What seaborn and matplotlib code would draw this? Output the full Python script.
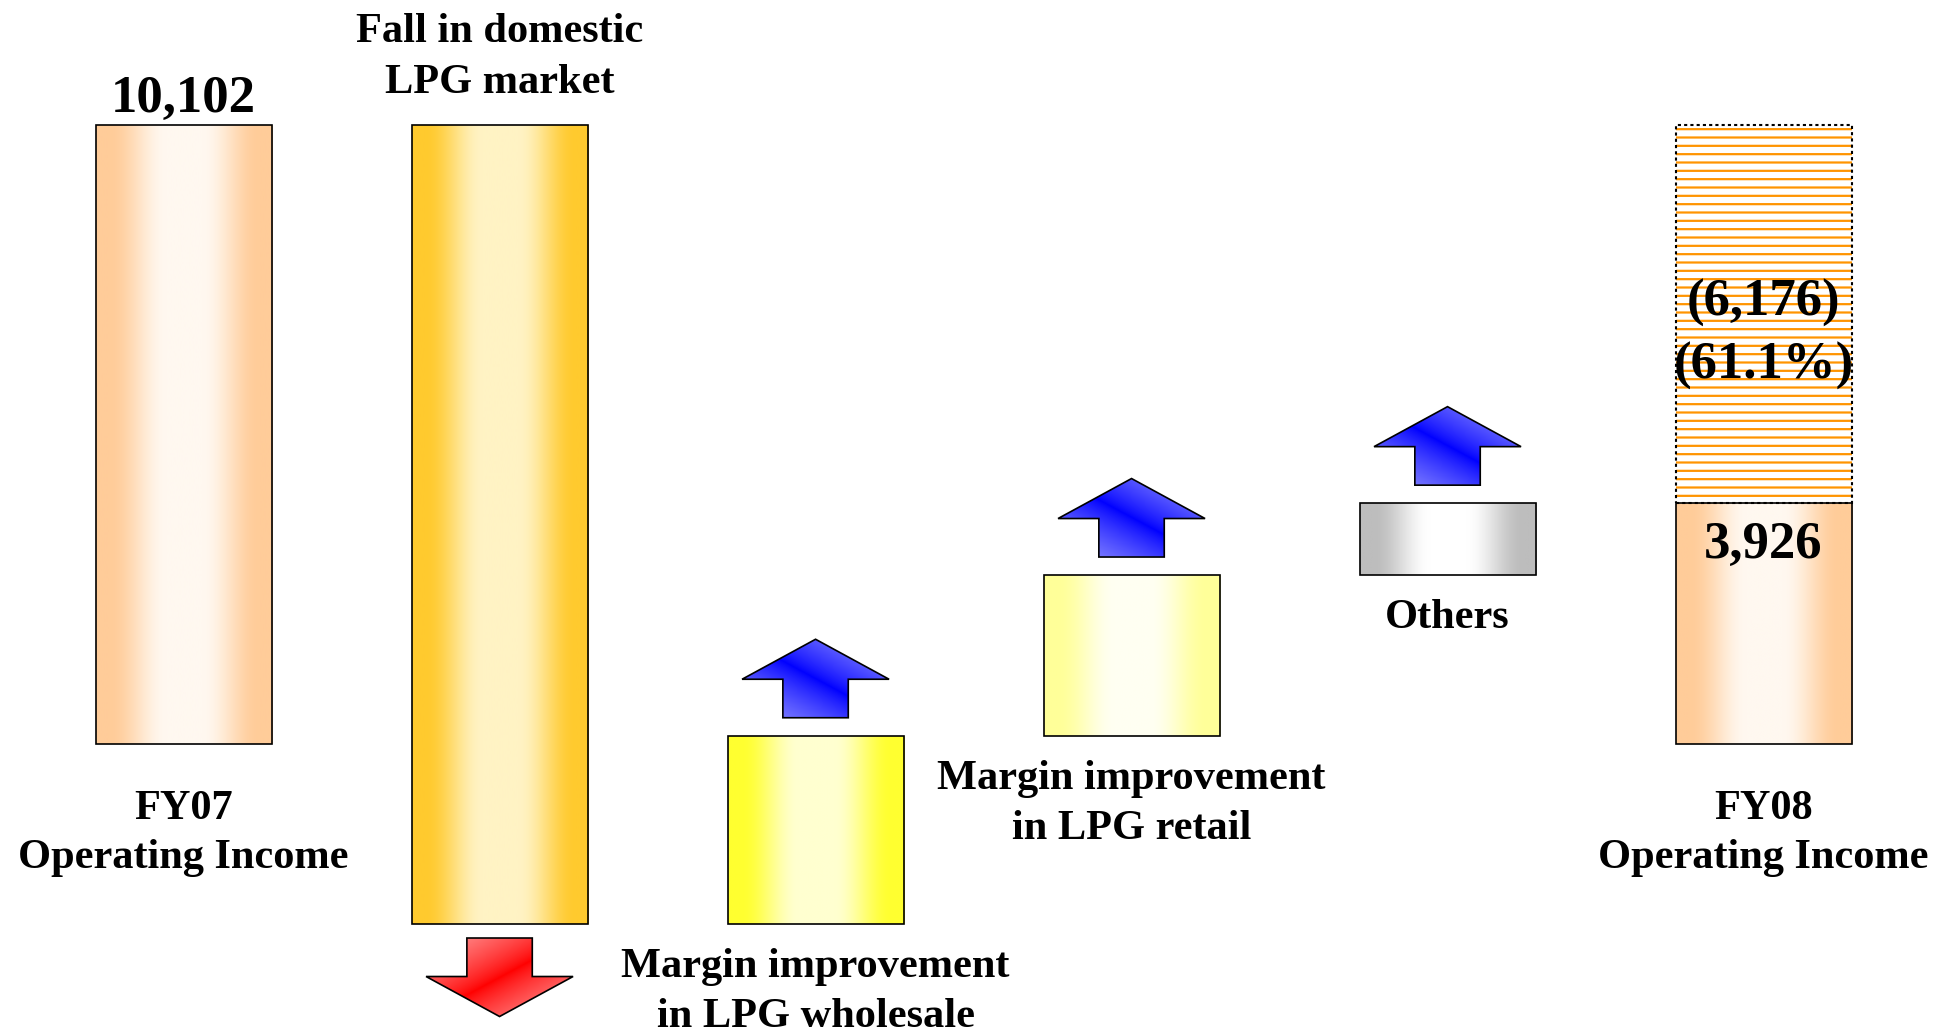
import numpy as np
import pandas as pd
import matplotlib
matplotlib.use("Agg")
import matplotlib.pyplot as plt
import seaborn as sns
from matplotlib.patches import Polygon
from matplotlib.colors import to_rgb

# --- données (cascade du résultat opérationnel) ---
steps = ["FY07", "Fall", "Wholesale", "Retail", "Others", "FY08"]
label_lines = [
    ["FY07", "Operating Income"],
    ["Fall in domestic", "LPG market"],
    ["Margin improvement", "in LPG wholesale"],
    ["Margin improvement", "in LPG retail"],
    ["Others"],
    ["FY08", "Operating Income"],
]
fy07 = 10102
changes = [-13045, 3070, 2625, 1174]
fy08 = 3926
decline = 6176
decline_pct = 61.1

# couleurs (bord, centre) des dégradés
bar_edge = ["#FFCC99", "#FFCA2E", "#FFFF30", "#FFFF99", "#BDBDBD", "#FFCC99"]
bar_center = ["#FFF8F0", "#FFF3C4", "#FFFFD0", "#FFFFF2", "#FFFFFF", "#FFF8F0"]

BAR_W = 0.557
X0, X1 = -0.581, 5.549
Y0, Y1 = -4728, 12144
W_PX, H_PX = 1937, 1033


def hgrad(edge, center, n=256):
    t = np.abs(np.linspace(-1, 1, n))
    w = np.clip((t - 0.2) / 0.65, 0, 1)
    w = w * w * (3 - 2 * w)
    e = np.array(to_rgb(edge))
    c = np.array(to_rgb(center))
    return (c + (e - c) * w[:, None])[None, :, :]


def dgrad(dark, light, flip, n=160):
    xn, yn = np.meshgrid(np.linspace(0, 1, n), np.linspace(0, 1, n))
    s = (xn + ((1 - yn) if flip else yn)) / 2
    w = np.clip(np.abs(s - 0.5) * 2.2, 0, 1) ** 0.8
    d = np.array(to_rgb(dark))
    li = np.array(to_rgb(light))
    return d + (li - d) * w[:, :, None]


sns.set_style("white")
plt.rcParams["font.family"] = ["Liberation Serif", "DejaVu Serif"]
plt.rcParams["hatch.linewidth"] = 1.6

fig = plt.figure(figsize=(W_PX / 100, H_PX / 100), dpi=100)
ax = fig.add_axes([0, 0, 1, 1])

heights = [fy07] + changes + [fy08]
bottoms = [0]
run = fy07
for c in changes:
    bottoms.append(run)
    run += c
bottoms.append(0)

df = pd.DataFrame({"step": steps, "height": heights, "bottom": bottoms})
sns.barplot(data=df, x="step", y="height", bottom=df["bottom"].to_numpy(),
            width=BAR_W, color="white", facecolor="none", edgecolor="black",
            linewidth=1.2, errorbar=None, zorder=3, ax=ax)
bars = list(ax.patches)

for p, e, c in zip(bars, bar_edge, bar_center):
    x, y, w, h = p.get_x(), p.get_y(), p.get_width(), p.get_height()
    im = ax.imshow(hgrad(e, c), extent=[x, x + w, y, y + h], aspect="auto",
                   interpolation="bilinear", zorder=2)
    im.set_clip_path(p)

# zone hachurée : baisse FY07 -> FY08
ax.bar(5, decline, bottom=fy08, width=BAR_W, facecolor="white",
       edgecolor="#FF9400", linewidth=0, hatch="--", zorder=2)
ax.bar(5, decline, bottom=fy08, width=BAR_W, fill=False, edgecolor="black",
       linestyle=(0, (1.5, 1.5)), linewidth=1.5, zorder=3)

ax.set_xlim(X0, X1)
ax.set_ylim(Y0, Y1)
ux = (X1 - X0) / W_PX
uy = (Y1 - Y0) / H_PX

# flèches
for i, c in enumerate(changes, start=1):
    up = c > 0
    sgn = 1 if up else -1
    y_end = bottoms[i] + heights[i]
    ya = y_end + sgn * (18 if up else 14.3) * uy
    yb = ya + sgn * 38.5 * uy
    yc = yb + sgn * 40 * uy
    hw, sw = 73.5 * ux, 32.7 * ux
    pts = [(i - sw, ya), (i + sw, ya), (i + sw, yb), (i + hw, yb), (i, yc),
           (i - hw, yb), (i - sw, yb)]
    poly = Polygon(pts, closed=True, facecolor="none", edgecolor="black",
                   linewidth=1.2, joinstyle="miter", zorder=4)
    ax.add_patch(poly)
    if up:
        img = dgrad("#0000FF", "#8C8CFF", flip=False)
    else:
        img = dgrad("#FF0000", "#FF9494", flip=True)
    im = ax.imshow(img, extent=[i - hw, i + hw, min(ya, yc), max(ya, yc)],
                   origin="lower", aspect="auto", interpolation="bilinear", zorder=3)
    im.set_clip_path(poly)


def put(text, x, y, dy, size):
    ax.annotate(text, xy=(x, y), xytext=(0, dy), textcoords="offset pixels",
                ha="center", va="baseline", fontsize=size, fontweight="bold",
                color="black", zorder=6)


# étiquettes des étapes
LAB = 30.5
anchors = [(0, -75, 49), (fy07, 83.3, 51.6), (bottoms[2], -53, 50),
           (bottoms[3], -53, 50), (bottoms[4], -52.5, 50), (0, -75.5, 49)]
for i, (lines, (yv, dy, pitch)) in enumerate(zip(label_lines, anchors)):
    for k, line in enumerate(lines):
        put(line, i, yv, dy - k * pitch, LAB)

# valeurs
NUM = 38
put(f"{fy07:,}", 0, fy07, 13, NUM)
put(f"{fy08:,}", 5, fy08, -55, NUM)
put(f"({decline:,})", 5, fy07, -191, NUM)
put(f"({decline_pct:.1f}%)", 5, fy07, -254, NUM)

ax.set_axis_off()
fig.savefig("out.png", dpi=100, facecolor="white")
